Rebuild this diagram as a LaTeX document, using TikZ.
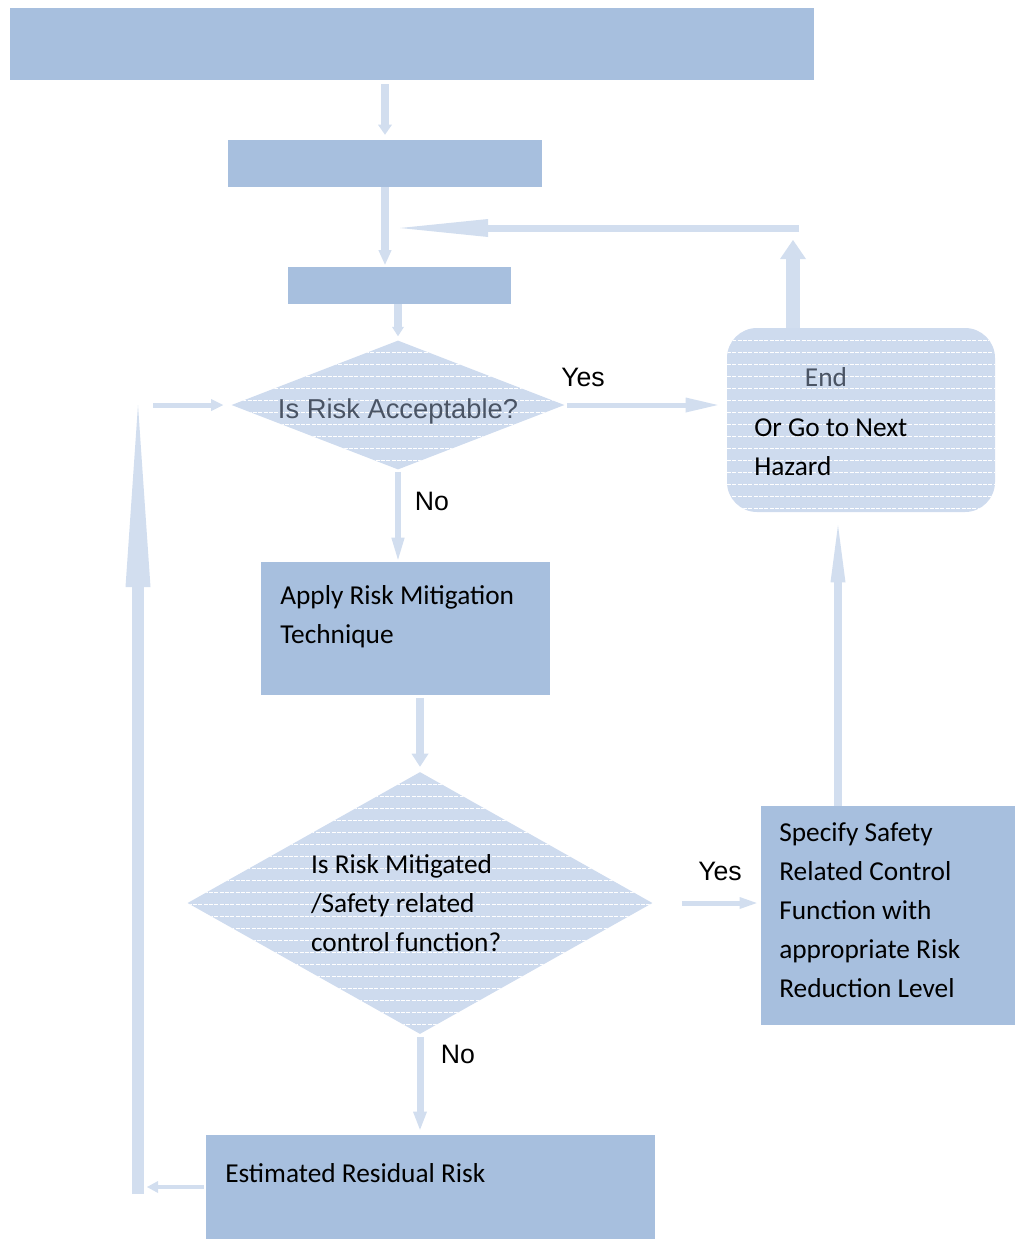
\documentclass[tikz,border=0pt]{standalone}
\usepackage{fontspec}
\setmainfont{Carlito}
\newfontfamily\arialfont{Liberation Sans}
\usetikzlibrary{positioning, arrows.meta, shapes.geometric}
\definecolor{boxblue}{RGB}{167,191,222}
\definecolor{patblue}{RGB}{206,219,238}
\definecolor{arrblue}{RGB}{210,222,239}
\definecolor{slate}{RGB}{74,84,100}
\tikzset{
  hatch/.style={path picture={
      \foreach \k in {1,...,24}
        \draw[white, line width=0.6pt, dash pattern=on 3pt off 1pt]
          ([yshift=-\k*9pt]path picture bounding box.north west) --
          ([yshift=-\k*9pt]path picture bounding box.north east);}},
  bluebox/.style={rectangle, fill=boxblue, inner sep=0pt},
  decbox/.style={diamond, fill=patblue, hatch, inner sep=0pt, align=flush left},
  endbox/.style={rectangle, rounded corners=22.5pt, fill=patblue, hatch, inner sep=0pt},
  boxtxt/.style={align=left, inner sep=0pt, font=\fontsize{20.5}{29.25}\selectfont},
  lbltxt/.style={inner sep=0pt, font=\arialfont\fontsize{20}{24}\selectfont},
  blkarr/.style n args={3}{draw=arrblue, line width=#1,
                           -{Triangle[length=#2, width=#3, line width=0pt]}},
}

\begin{document}
\begin{tikzpicture}[x=0.75pt, y=-0.75pt]
  \useasboundingbox (0,0) rectangle (1015,1239);

  % boxes and decisions
  \node[bluebox, minimum width=603pt, minimum height=54pt] (head) at (412,44) {};
  \node[bluebox, minimum width=235.5pt, minimum height=35.25pt] (ident) at (385,163.5) {};
  \node[bluebox, minimum width=167.25pt, minimum height=27.75pt] (assess) at (399.5,285.5) {};
  \node[decbox, aspect=2.6, minimum width=249.75pt, minimum height=96.75pt,
        text height=22pt, text depth=2pt,
        text=slate, font=\arialfont\fontsize{20.5}{24}\selectfont] (accept) at (398,405) {Is Risk Acceptable?};
  \node[endbox, minimum width=201pt, minimum height=138pt] (end) at (861,420) {};
  \node[bluebox, minimum width=216.75pt, minimum height=99.75pt] (apply) at (405.5,628.5) {};
  \node[decbox, aspect=1.77, minimum width=348.75pt, minimum height=196.5pt,
        text width=163.5pt, font=\fontsize{20.5}{29.25}\selectfont] (mitig) at (420,903)
        {Is Risk Mitigated\\/Safety related\\control function?};
  \node[bluebox, minimum width=190.5pt, minimum height=164.25pt] (spec) at (888,915.5) {};
  \node[bluebox, minimum width=336.75pt, minimum height=78pt] (resid) at (430.5,1187) {};

  % texts
  \node[boxtxt, text=slate] (endtxt) at (826,377) {End};
  \node[boxtxt, anchor=west] (nexttxt) at (754,447.5) {Or Go to Next\\Hazard};
  \node[boxtxt, anchor=west] (applytxt) at (280,617) {Apply Risk Mitigation\\Technique};
  \node[boxtxt, anchor=west] (spectxt) at (779,910)
        {Specify Safety\\Related Control\\Function with\\appropriate Risk\\Reduction Level};
  \node[boxtxt, anchor=west] (residtxt) at (225,1173) {Estimated Residual Risk};
  \node[lbltxt] (yes1) at (583,377) {Yes};
  \node[lbltxt] (no1)  at (432,501) {No};
  \node[lbltxt] (yes2) at (720,871) {Yes};
  \node[lbltxt] (no2)  at (458,1054) {No};

  % loop corners
  \coordinate (loopR)  at (793,228);
  \coordinate (loopL)  at (ident.south |- loopR);
  \coordinate (loopBL) at (138,1187);
  \coordinate (loopTL) at (138,405);

  % connectors
  \draw[blkarr={6pt}{7.5pt}{10.5pt}, shorten <=3pt, shorten >=3.75pt] (ident.north |- head.south) -- (ident.north);
  \draw[blkarr={6pt}{11pt}{10pt}, shorten >=1.5pt] (ident.south) -- (ident.south |- assess.north);
  \draw[blkarr={6pt}{7pt}{9pt}, shorten >=3pt] (accept.north |- assess.south) -- (accept.north);
  \draw[blkarr={3.75pt}{24pt}{11.25pt}, shorten <=1.5pt, shorten >=6.75pt] (accept.east) -- (accept.east -| end.west);
  \draw[blkarr={4.5pt}{16.5pt}{10pt}, shorten <=1.5pt, shorten >=1.5pt] (accept.south) -- (accept.south |- apply.north);
  \draw[blkarr={6pt}{9.75pt}{12.75pt}, shorten <=2pt, shorten >=3.75pt] (mitig.north |- apply.south) -- (mitig.north);
  \draw[blkarr={3.75pt}{12.75pt}{9pt}, shorten <=21.75pt, shorten >=3pt] (mitig.east) -- (mitig.east -| spec.west);
  \draw[blkarr={6pt}{42.75pt}{11.25pt}, shorten >=9.75pt] ([xshift=-37.5pt]spec.north) -- ([xshift=-37.5pt]spec.north |- end.south);
  \draw[blkarr={10.5pt}{14.25pt}{19.5pt}, shorten >=9pt] (loopR |- end.north) -- (loopR);
  \draw[blkarr={5.25pt}{66pt}{13.5pt}, shorten >=11.25pt] ([xshift=4.5pt]loopR) -- (loopL);
  \draw[blkarr={5.25pt}{13.5pt}{10.5pt}, shorten <=2pt, shorten >=3.75pt] (mitig.south) -- (mitig.south |- resid.north);
  \draw[blkarr={3pt}{8.25pt}{9pt}, shorten <=1.5pt, shorten >=6.75pt] (resid.west) -- (loopBL);
  \draw[blkarr={9pt}{136.5pt}{18.75pt}] ([yshift=-5.25pt]loopBL) -- (loopTL);
  \draw[blkarr={3.75pt}{9pt}{9pt}, shorten >=6pt] ([xshift=11.25pt]loopTL) -- (accept.west);

\end{tikzpicture}
\end{document}
